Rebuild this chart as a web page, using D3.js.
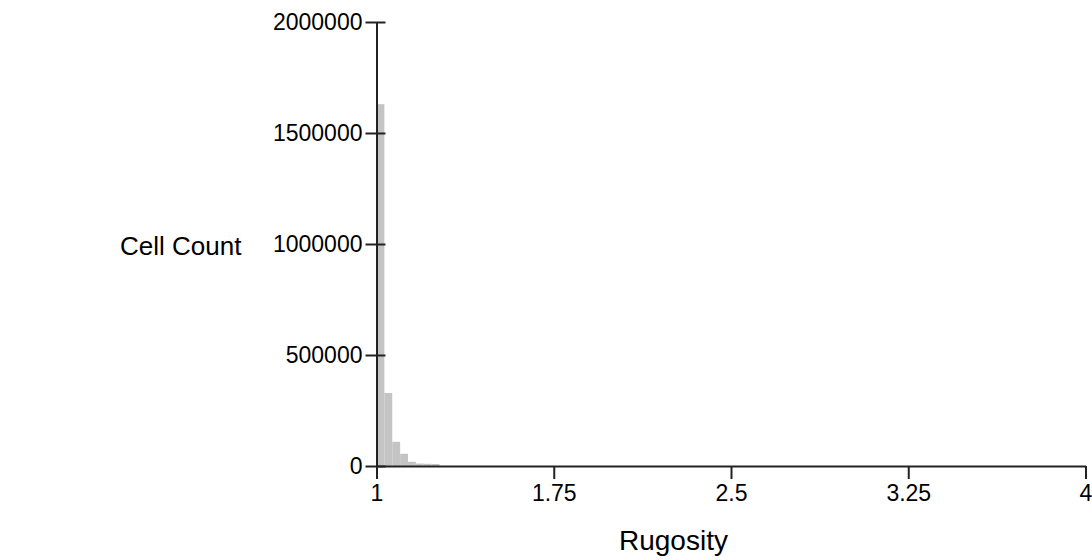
<!DOCTYPE html>
<html>
<head>
<meta charset="utf-8">
<script src="https://cdn.jsdelivr.net/npm/d3@7"></script>
<style>
  html, body { margin: 0; padding: 0; background: #fff; }
  svg text { font-family: "Liberation Sans", Arial, sans-serif; fill: #000; }
</style>
</head>
<body>
<svg id="chart" width="1092" height="560"></svg>
<script>
// Rugosity histogram: bin start values and cell counts per bin
const binStarts = [1.0, 1.0333, 1.0667, 1.1, 1.1333, 1.1667, 1.2, 1.2333];
const binWidth = 0.0333;
const cellCounts = [1630000, 329000, 109000, 55000, 19000, 11000, 10000, 9000];
const xTicks = [1, 1.75, 2.5, 3.25, 4];
const yTicks = [0, 500000, 1000000, 1500000, 2000000];

const svg = d3.select("#chart");
const plotLeft = 376.5, plotRight = 1085.5, plotTop = 22, plotBottom = 466;

const x = d3.scaleLinear().domain([1, 4]).range([plotLeft, plotRight]);
const y = d3.scaleLinear().domain([0, 2000000]).range([plotBottom, plotTop]);

const bins = binStarts.map((s, i) => ({ x0: s, x1: s + binWidth, count: cellCounts[i] }));

svg.append("g")
  .selectAll("rect")
  .data(bins)
  .join("rect")
  .attr("x", d => x(d.x0))
  .attr("width", d => x(d.x1) - x(d.x0))
  .attr("y", d => y(d.count))
  .attr("height", d => y(0) - y(d.count))
  .attr("fill", "#c4c4c4");

// x axis
const gx = svg.append("g")
  .attr("transform", `translate(0,${plotBottom})`)
  .call(d3.axisBottom(x).tickValues(xTicks).tickFormat(d3.format("")).tickSize(13).tickSizeOuter(0));
gx.select(".domain").attr("stroke", "#222").attr("stroke-width", 2);
gx.selectAll(".tick line").attr("stroke", "#222").attr("stroke-width", 2);
gx.selectAll(".tick text").attr("font-size", 23).attr("y", 19);

// y axis
const gy = svg.append("g")
  .attr("transform", `translate(${plotLeft},0)`)
  .call(d3.axisLeft(y).tickValues(yTicks).tickFormat(d3.format("d")).tickSize(11).tickSizeOuter(0));
gy.select(".domain").attr("stroke", "#222").attr("stroke-width", 2);
gy.selectAll(".tick line").attr("x1", 9).attr("x2", -11).attr("stroke", "#222").attr("stroke-width", 2);
gy.selectAll(".tick text").attr("font-size", 23).attr("x", -14);

// axis titles
svg.append("text")
  .attr("x", 619).attr("y", 550)
  .attr("text-anchor", "start")
  .attr("font-size", 28)
  .text("Rugosity");

svg.append("text")
  .attr("x", 120).attr("y", 255)
  .attr("text-anchor", "start")
  .attr("font-size", 26)
  .text("Cell Count");
</script>
</body>
</html>
